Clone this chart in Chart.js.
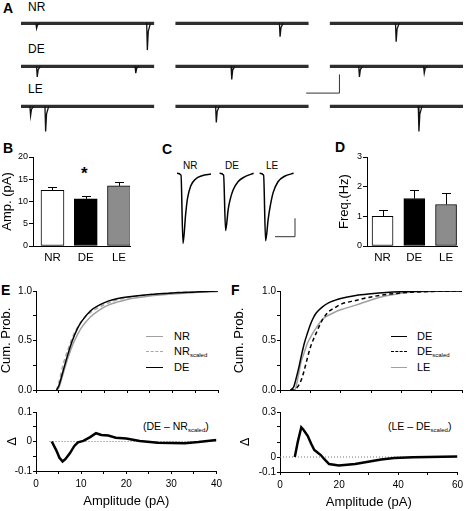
<!DOCTYPE html>
<html>
<head>
<meta charset="utf-8">
<script src="https://cdn.jsdelivr.net/npm/chart.js@4.4.1/dist/chart.umd.min.js"></script>
<style>
body { margin: 0; background: #fff; }
#fig { position: relative; width: 467px; height: 511px; overflow: hidden; background: #fff;
       font-family: "Liberation Sans", Arial, sans-serif; color: #000; }
#fig canvas { position: absolute; }
.t { position: absolute; line-height: 1; white-space: nowrap; }
.p { font-weight: bold; font-size: 14px; }
.lg { font-size: 11px; }
.ln { position: absolute; height: 0; }
sub { font-size: 6px; vertical-align: -2px; }
</style>
</head>
<body>
<div id="fig">
  <div class="t p" style="left:3px;top:1px">A</div>
  <div class="t" style="left:28px;top:1.4px;font-size:12px">NR</div>
  <div class="t" style="left:28px;top:43.4px;font-size:12px">DE</div>
  <div class="t" style="left:28px;top:83.4px;font-size:12px">LE</div>

  <div class="t p" style="left:3px;top:141px">B</div>
  <div class="t" style="left:81px;top:165px;font-size:17px;font-weight:bold">*</div>

  <div class="t p" style="left:162px;top:142px">C</div>
  <div class="t" style="left:183px;top:160.7px;font-size:10px">NR</div>
  <div class="t" style="left:225px;top:160.7px;font-size:10px">DE</div>
  <div class="t" style="left:266px;top:160.7px;font-size:10px">LE</div>

  <div class="t p" style="left:335px;top:140px">D</div>

  <div class="t p" style="left:1px;top:283px">E</div>
  <div class="ln" style="left:146px;top:336px;width:17px;border-top:1.5px solid #a0a0a0"></div>
  <div class="ln" style="left:146px;top:351px;width:17px;border-top:1.5px dashed #a8a8a8"></div>
  <div class="ln" style="left:146px;top:367px;width:17px;border-top:1.5px solid #000"></div>
  <div class="t lg" style="left:174px;top:330.9px">NR</div>
  <div class="t lg" style="left:174px;top:345.6px">NR<sub>scaled</sub></div>
  <div class="t lg" style="left:174px;top:361.6px">DE</div>
  <div class="t" style="left:143px;top:420.6px;font-size:10.5px">(DE – NR<sub>scaled</sub>)</div>

  <div class="t p" style="left:231px;top:283px">F</div>
  <div class="ln" style="left:391px;top:336px;width:16px;border-top:1.5px solid #000"></div>
  <div class="ln" style="left:391px;top:351px;width:16px;border-top:1.5px dashed #000"></div>
  <div class="ln" style="left:391px;top:367px;width:16px;border-top:1.5px solid #a0a0a0"></div>
  <div class="t lg" style="left:417px;top:330.9px">DE</div>
  <div class="t lg" style="left:417px;top:345.6px">DE<sub>scaled</sub></div>
  <div class="t lg" style="left:417px;top:361.6px">LE</div>
  <div class="t" style="left:388px;top:420.6px;font-size:10.5px">(LE – DE<sub>scaled</sub>)</div>
</div>

<script>
// ---------- data ----------
const groups = ['NR', 'DE', 'LE'];
const groupColors = ['#ffffff', '#000000', '#8c8c8c'];

// B: amplitude (pA), D: frequency (Hz), mean and SEM
const ampMean = [12.5, 10.6, 13.5];
const ampSem = [0.8, 0.6, 0.8];
const freqMean = [1.0, 1.6, 1.4];
const freqSem = [0.2, 0.3, 0.4];
const ampTicks = [0, 5, 10, 15, 20];
const freqTicks = [0, 1, 2, 3];

// A: events in each 1 s sweep, [time (ms), amplitude (pA)]
const eventsNR = [[[115, 2.7], [947, 14.3]], [[784, 7.1]], [[496, 9.8]]];
const eventsDE = [[[120, 5.7], [860, 3.6]], [[421, 7.0]], [[220, 5.7], [707, 3.6]]];
const eventsLE = [[[70, 5.0], [183, 13.4]], [[305, 8.6]], [[667, 13.4]]];
const sweepMs = 1000;
const scaleBarA = { ms: 250, pA: 10 };

// C: averaged events (pA) against time from onset (ms)
const avgTime = [0, 2, 3, 4.3, 5.2, 6.8, 9.2, 12.5, 17];
const avgNR = [0, -0.5, -19.1, -11.3, -7.0, -3.5, -1.6, -0.65, -0.2];
const avgDE = [0, -0.5, -15.6, -9.8, -7.3, -4.5, -2.3, -0.95, 0];
const avgLE = [0, -0.5, -18.4, -12.5, -9.3, -5.2, -2.3, -0.8, 0];
const scaleBarC = { ms: 10, pA: 5 };

// E: cumulative amplitude distributions
const ampE = [4.5, 5, 6, 7, 8, 9, 10, 12, 14, 16, 18, 20, 25, 30, 35, 40];
const cdfE_NR = [0, 0.02, 0.17, 0.32, 0.45, 0.55, 0.63, 0.74, 0.81, 0.86, 0.89, 0.915, 0.95, 0.97, 0.985, 0.995];
const cdfE_NRscaled = [0, 0.07, 0.265, 0.405, 0.53, 0.622, 0.695, 0.785, 0.838, 0.882, 0.913, 0.932, 0.963, 0.983, 0.992, 0.997];
const cdfE_DE = [0, 0.04, 0.2, 0.36, 0.5, 0.61, 0.69, 0.8, 0.86, 0.9, 0.925, 0.94, 0.965, 0.98, 0.99, 1.0];
const diffAmpE = [3.5, 4.5, 5.2, 5.9, 6.5, 7.5, 8.5, 9.3, 10.5, 12, 13.3, 14.5, 16, 17.7, 20, 23, 27, 30, 33, 36, 40];
const diffE = [0, -0.03, -0.055, -0.068, -0.06, -0.04, -0.015, -0.003, 0.002, 0.015, 0.028, 0.022, 0.02, 0.013, 0.01, 0.002, -0.004, -0.005, -0.006, -0.002, 0.005];

// F: cumulative amplitude distributions
const ampF = [3.5, 4.5, 5, 6, 7, 8, 9, 10, 11, 12, 14, 16, 18, 20, 25, 30, 35, 40, 45, 50, 60];
const cdfF_DE = [0, 0.03, 0.08, 0.2, 0.34, 0.47, 0.57, 0.66, 0.73, 0.78, 0.84, 0.88, 0.905, 0.925, 0.955, 0.972, 0.985, 0.993, 0.997, 0.999, 1];
const cdfF_DEscaled = [0, 0, 0.005, 0.04, 0.1, 0.2, 0.32, 0.43, 0.51, 0.58, 0.71, 0.79, 0.83, 0.865, 0.905, 0.94, 0.965, 0.98, 0.99, 0.996, 1];
const cdfF_LE = [0, 0, 0.005, 0.14, 0.29, 0.38, 0.47, 0.53, 0.585, 0.63, 0.715, 0.755, 0.785, 0.81, 0.857, 0.91, 0.951, 0.978, 0.99, 0.996, 1];
const diffAmpF = [5, 6, 7.2, 8, 9.4, 10.5, 11.6, 13, 13.8, 15, 16.6, 19.9, 25.4, 29.8, 34.2, 38.6, 45, 50, 55, 60];
const diffF = [0, 0.1, 0.198, 0.18, 0.14, 0.09, 0.047, 0.025, 0.013, -0.015, -0.047, -0.056, -0.047, -0.031, -0.016, -0.006, -0.002, 0, 0.001, 0.004];

const cdfTicks = [0, 0.25, 0.5, 0.75, 1];
const cdfTickLabels = ['0.0', '', '0.5', '', '1.0'];
const diffTicksE = [-0.1, -0.05, 0, 0.05, 0.1];
const diffTickLabelsE = ['-0.1', '', '0', '', '0.1'];
const diffTicksF = [-0.1, 0, 0.1, 0.2, 0.3];
const diffTickLabelsF = ['-0.1', '0', '', '', '0.3'];
const ampTicksE = [0, 5, 10, 15, 20, 25, 30, 35, 40];
const ampTickLabelsE = ['0', '', '10', '', '20', '', '30', '', '40'];
const ampTicksF = [0, 10, 20, 30, 40, 50, 60];
const ampTickLabelsF = ['0', '', '20', '', '40', '', '60'];

// ---------- setup ----------
Chart.defaults.font.family = '"Liberation Sans", Arial, sans-serif';
Chart.defaults.color = '#000';
Chart.defaults.animation = false;
Chart.defaults.events = [];
Chart.defaults.plugins.legend.display = false;
Chart.defaults.plugins.tooltip.enabled = false;
Chart.defaults.elements.point.radius = 0;

const fig = document.getElementById('fig');

// area = chart area in page pixels, f = room for axes around it
function mount(area, f) {
  const c = document.createElement('canvas');
  const w = f.yw + area.w + f.right;
  const h = f.top + area.h + f.xh;
  c.width = w; c.height = h;
  c.style.left = (area.x - f.yw) + 'px';
  c.style.top = (area.y - f.top) + 'px';
  c.style.width = w + 'px';
  c.style.height = h + 'px';
  fig.appendChild(c);
  return c;
}

function axis(o) {
  return {
    type: 'linear', min: o.min, max: o.max, offset: false,
    afterBuildTicks: s => { s.ticks = o.ticks.map(v => ({ value: v })); },
    ticks: {
      display: !!o.labels, autoSkip: false, maxRotation: 0,
      font: { size: o.size || 10 }, padding: o.pad ?? 1,
      callback: (v, i) => o.labels ? o.labels[i] : ''
    },
    grid: {
      display: o.marks !== false, drawOnChartArea: false, offset: false,
      drawTicks: o.marks !== false, tickLength: o.tick ?? 3, color: '#000', lineWidth: 1
    },
    border: { display: true, color: '#000', width: 1 },
    title: o.title ? { display: true, text: o.title, font: { size: 13 }, padding: 0 } : { display: false },
    afterFit: s => { if (s.isHorizontal()) s.height = o.fit; else s.width = o.fit; }
  };
}

function pts(xs, ys) { return xs.map((x, i) => ({ x, y: ys[i] })); }

function line(data, color, width, dash) {
  return { type: 'line', data, borderColor: color, borderWidth: width, borderDash: dash || [],
           fill: false, pointRadius: 0, cubicInterpolationMode: 'monotone', spanGaps: false };
}

// ---------- A: raw sweeps ----------
const sweepOffsets = [0, 1160, 2320];

function sweepRow(events, area, withBar) {
  const base = [], ev = [];
  events.forEach((list, s) => {
    const o = sweepOffsets[s];
    base.push({ x: o, y: 0 }, { x: o + sweepMs, y: 0 }, { x: o + sweepMs + 1, y: null });
    list.forEach(([t, a]) => {
      const x = o + t;
      ev.push({ x: x - 3, y: 0 }, { x: x + 2, y: -a }, { x: x + 9, y: -a * 0.3 },
              { x: x + 25, y: 0 }, { x: x + 26, y: null });
    });
  });
  const datasets = [line(ev, '#111', 1.3), line(base, '#2e2e2e', 3.2)];
  datasets[0].cubicInterpolationMode = 'default';
  if (withBar) {
    const cx = 2392, cy = -14.3;
    datasets.push(line([{ x: cx - scaleBarA.ms, y: cy }, { x: cx, y: cy }, { x: cx, y: cy + scaleBarA.pA }], '#333', 1));
    datasets[2].cubicInterpolationMode = 'default';
  }
  new Chart(mount(area, { yw: 0, xh: 0, top: 0, right: 0 }), {
    type: 'line',
    data: { datasets },
    options: {
      responsive: false, layout: { padding: 0 },
      scales: {
        x: { type: 'linear', display: false, min: 0, max: 3320 },
        y: { type: 'linear', display: false, min: -20.13, max: 5 }
      }
    }
  });
}
sweepRow(eventsNR, { x: 21, y: 14, w: 442, h: 47 }, false);
sweepRow(eventsDE, { x: 21, y: 57, w: 442, h: 47 }, true);
sweepRow(eventsLE, { x: 21, y: 97, w: 442, h: 47 }, false);

// ---------- B and D: bar charts with SEM ----------
const errorBars = {
  id: 'errorBars',
  afterDatasetsDraw(chart, args, opts) {
    const { ctx } = chart;
    const y = chart.scales.y;
    ctx.save();
    ctx.strokeStyle = '#000';
    ctx.lineWidth = 1;
    chart.getDatasetMeta(0).data.forEach((bar, i) => {
      const top = Math.round(y.getPixelForValue(opts.mean[i] + opts.err[i])) + 0.5;
      const x = Math.round(bar.x) + 0.5;
      ctx.beginPath();
      ctx.moveTo(x, bar.y); ctx.lineTo(x, top);
      ctx.moveTo(x - opts.cap / 2, top); ctx.lineTo(x + opts.cap / 2, top);
      ctx.stroke();
    });
    ctx.restore();
  }
};

function barChart(area, f, xr, mean, err, yMax, yTicks, title, thick) {
  new Chart(mount(area, f), {
    type: 'bar',
    data: {
      datasets: [{
        data: pts([0, 1, 2], mean),
        backgroundColor: groupColors, borderColor: '#000', borderWidth: 1,
        borderSkipped: false, barThickness: thick
      }]
    },
    options: {
      responsive: false,
      layout: { padding: { left: 0, top: f.top, right: f.right, bottom: 0 } },
      plugins: { errorBars: { mean, err, cap: 9 } },
      scales: {
        x: axis({ min: xr[0], max: xr[1], ticks: [0, 1, 2], labels: groups, size: 11.5,
                  pad: 5, marks: false, fit: f.xh }),
        y: axis({ min: 0, max: yMax, ticks: yTicks, labels: yTicks.map(String), size: 9,
                  tick: 4, pad: 1, title, fit: f.yw })
      }
    },
    plugins: [errorBars]
  });
}
barChart({ x: 33, y: 157, w: 97, h: 89 }, { yw: 33, xh: 22, top: 8, right: 6 },
         [-0.586, 2.331], ampMean, ampSem, 20, ampTicks, 'Amp. (pA)', 23);
barChart({ x: 367, y: 157, w: 90, h: 89 }, { yw: 30, xh: 22, top: 8, right: 8 },
         [-0.49, 2.345], freqMean, freqSem, 3, freqTicks, 'Freq.(Hz)', 21);

// ---------- C: averaged events ----------
(function () {
  const offsets = [0, 21.3, 41.3];
  const traces = [avgNR, avgDE, avgLE].map((amp, k) =>
    line(avgTime.map((t, i) => ({ x: t + offsets[k], y: amp[i] })), '#000', 1.5));
  const cx = 59, cy = -17.27;
  traces.push(line([{ x: cx - scaleBarC.ms, y: cy }, { x: cx, y: cy }, { x: cx, y: cy + scaleBarC.pA }], '#333', 1));
  traces[3].cubicInterpolationMode = 'default';
  new Chart(mount({ x: 177, y: 166, w: 121, h: 82 }, { yw: 0, xh: 0, top: 0, right: 0 }), {
    type: 'line',
    data: { datasets: traces },
    options: {
      responsive: false, layout: { padding: 0 },
      scales: {
        x: { type: 'linear', display: false, min: 0, max: 60.5 },
        y: { type: 'linear', display: false, min: -20.35, max: 1.99 }
      }
    }
  });
})();

// ---------- E and F: cumulative probability + difference ----------
function cdfChart(area, f, xMax, xTicks, datasets) {
  new Chart(mount(area, f), {
    type: 'line',
    data: { datasets },
    options: {
      responsive: false,
      layout: { padding: { left: 0, top: f.top, right: f.right, bottom: 0 } },
      scales: {
        x: axis({ min: 0, max: xMax, ticks: xTicks, labels: null, tick: 3, fit: f.xh }),
        y: axis({ min: 0, max: 1, ticks: cdfTicks, labels: cdfTickLabels, size: 10,
                  tick: 3, pad: 1, title: 'Cum. Prob.', fit: f.yw })
      }
    }
  });
}

function diffChart(area, f, xMax, xTicks, xLabels, yr, yTicks, yLabels, diffData, zeroFrom) {
  new Chart(mount(area, f), {
    type: 'line',
    data: {
      datasets: [
        Object.assign(line(diffData, '#000', 2.5), { cubicInterpolationMode: 'default' }),
        line([{ x: zeroFrom, y: 0 }, { x: xMax, y: 0 }], '#777', 1, [1, 2])
      ]
    },
    options: {
      responsive: false,
      layout: { padding: { left: 0, top: f.top, right: f.right, bottom: 0 } },
      scales: {
        x: axis({ min: 0, max: xMax, ticks: xTicks, labels: xLabels, size: 10, tick: 3, pad: 4,
                  title: 'Amplitude (pA)', fit: f.xh }),
        y: axis({ min: yr[0], max: yr[1], ticks: yTicks, labels: yLabels, size: 10,
                  tick: 3, pad: 1, title: 'Δ', fit: f.yw })
      }
    }
  });
}

cdfChart({ x: 36, y: 291, w: 182, h: 101 }, { yw: 37, xh: 5, top: 8, right: 8 }, 40, ampTicksE, [
  line(pts(ampE, cdfE_DE), '#000', 1.5),
  line(pts(ampE, cdfE_NRscaled), '#a8a8a8', 1.5, [4, 3]),
  line(pts(ampE, cdfE_NR), '#a0a0a0', 1.5)
]);
diffChart({ x: 36, y: 412, w: 182, h: 59 }, { yw: 31, xh: 38, top: 7, right: 8 }, 40,
          ampTicksE, ampTickLabelsE, [-0.1, 0.1], diffTicksE, diffTickLabelsE, pts(diffAmpE, diffE), 3);

cdfChart({ x: 280, y: 291, w: 182, h: 101 }, { yw: 48, xh: 5, top: 8, right: 4 }, 60, ampTicksF, [
  line(pts(ampF, cdfF_DE), '#000', 1.5),
  line(pts(ampF, cdfF_DEscaled), '#000', 1.5, [4, 3]),
  line(pts(ampF, cdfF_LE), '#a0a0a0', 1.5)
]);
diffChart({ x: 280, y: 412, w: 181, h: 60 }, { yw: 42, xh: 38, top: 7, right: 6 }, 60,
          ampTicksF, ampTickLabelsF, [-0.1, 0.3], diffTicksF, diffTickLabelsF, pts(diffAmpF, diffF), 0);
</script>
</body>
</html>
